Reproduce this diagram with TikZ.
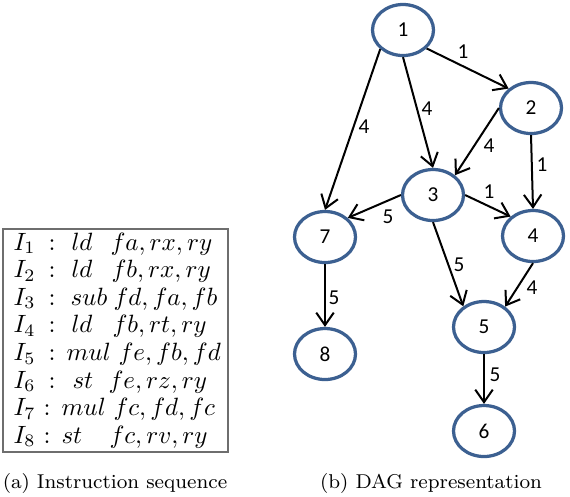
\documentclass[tikz,border=0pt]{standalone}
\usepackage{amsmath}
\usepackage{fontspec}
\newfontfamily\dagfont{Carlito}
\definecolor{dagblue}{RGB}{60,96,145}
\definecolor{framegray}{RGB}{110,110,110}
\usetikzlibrary{shapes.geometric,arrows.meta}

\begin{document}
\begin{tikzpicture}[x=0.4pt, y=-0.4pt,
		vertex/.style={ellipse, draw=dagblue, line width=1.3pt,
			minimum width=24.4pt, minimum height=20.4pt, inner sep=0pt,
			font=\dagfont\fontsize{8.5}{10}\selectfont},
		weight/.style={inner sep=0pt, font=\dagfont\fontsize{8.5}{10}\selectfont},
		arrow/.style={-{Straight Barb[length=5pt,width=7pt]}, line width=0.8pt},
		instr/.style={anchor=base west, inner sep=0pt},
		caption/.style={anchor=base, inner sep=0pt, font=\fontsize{8}{10}\selectfont}
	]
	\useasboundingbox (0,0) rectangle (570,496);

	\draw[framegray, line width=0.6pt] (3,229) rectangle (228,452);
	\foreach \i/\cx/\op/\ox/\args/\ax in {1/52/ld/71/{fa,rx,ry}/110, 2/52/ld/71/{fb,rx,ry}/111,
		3/52/sub/70/{fd,fa,fb}/113, 4/52/ld/71/{fb,rt,ry}/112, 5/52/mul/66/{fe,fb,fd}/118,
		6/52/st/72/{fe,rz,ry}/108, 7/47/mul/61/{fc,fd,fc}/113, 8/47/st/61/{fc,rv,ry}/109} {
		\node[instr] (lbl\i) at (13,{250+27.6*(\i-1)}) {$I_{\i}$};
		\node[anchor=base, inner sep=0pt] (col\i) at (\cx,{250+27.6*(\i-1)}) {$:$};
		\node[instr] (op\i) at (\ox,{250+27.6*(\i-1)}) {$\op$};
		\node[instr] (arg\i) at (\ax,{250+27.6*(\i-1)}) {$\args$};
	}

	\node[vertex] (n1) at (403,30) {1};
	\node[vertex] (n2) at (531,108) {2};
	\node[vertex] (n3) at (433,195) {3};
	\node[vertex] (n4) at (533,236) {4};
	\node[vertex] (n7) at (325,237) {7};
	\node[vertex] (n5) at (484,327) {5};
	\node[vertex] (n8) at (325,354) {8};
	\node[vertex] (n6) at (484,431) {6};

	\draw[arrow] (n1.-38) -- (n2.139);
	\draw[arrow] (n1.220) -- (n7.north);
	\draw[arrow] (n1.south) -- (n3.north);
	\draw[arrow] (n2.west) -- (n3.42);
	\draw[arrow] (n2.south) -- (n4.north);
	\draw[arrow] (n3.east) -- (n4.139);
	\draw[arrow] (n3.west) -- (n7.40);
	\draw[arrow] (n3.south) -- (n5.135);
	\draw[arrow] (n4.south) -- (n5.44);
	\draw[arrow] (n7.south) -- (n8.north);
	\draw[arrow] (n5.south) -- (n6.north);

	\node[weight] (w12) at (463,52) {1};
	\node[weight] (w17) at (364,127) {4};
	\node[weight] (w13) at (427,109) {4};
	\node[weight] (w23) at (489,146) {4};
	\node[weight] (w24) at (542,165) {1};
	\node[weight] (w34) at (489,192) {1};
	\node[weight] (w37) at (388,217) {5};
	\node[weight] (w35) at (459,265) {5};
	\node[weight] (w45) at (532,288) {4};
	\node[weight] (w78) at (334,298) {5};
	\node[weight] (w56) at (495,375) {5};

	\node[caption] (capa) at (115,488) {(a) Instruction sequence};
	\node[caption] (capb) at (431,488) {(b) DAG representation};
\end{tikzpicture}
\end{document}
